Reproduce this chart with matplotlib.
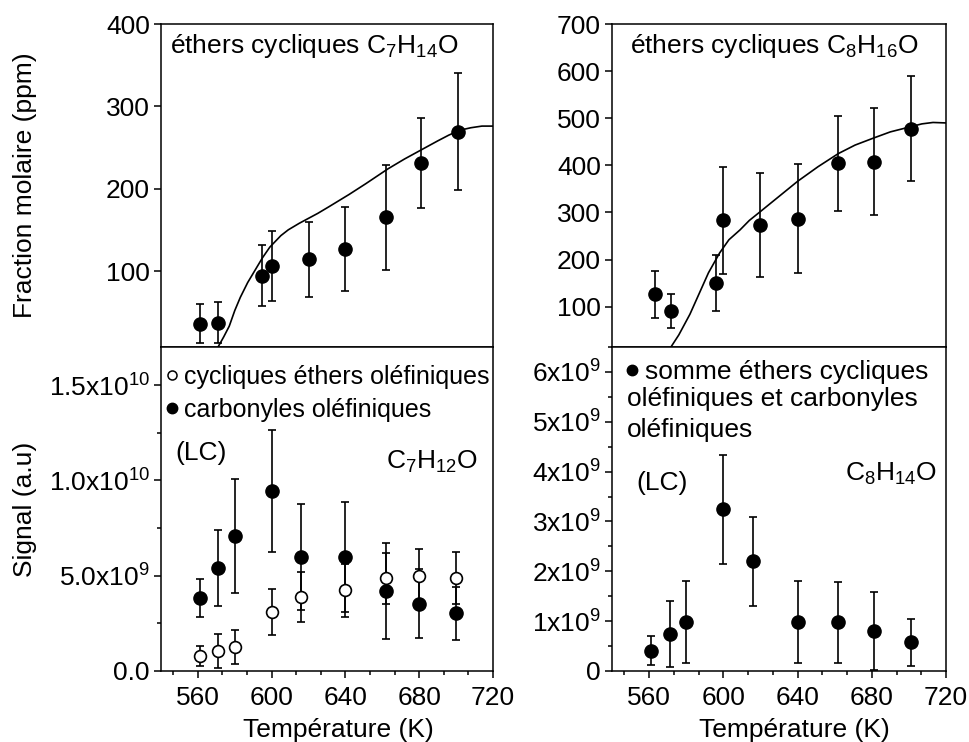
import matplotlib as mpl
mpl.use('Agg')
from matplotlib import pyplot as plt
from matplotlib.lines import Line2D
from matplotlib.ticker import MultipleLocator

mpl.rcParams['font.family'] = ['Liberation Sans', 'DejaVu Sans']
mpl.rcParams['font.size'] = 19
mpl.rcParams['mathtext.fontset'] = 'custom'
mpl.rcParams['mathtext.rm'] = 'Liberation Sans'
mpl.rcParams['mathtext.it'] = 'Liberation Sans:italic'
mpl.rcParams['axes.linewidth'] = 1.1

# --- data ---
# top left: ethers cycliques C7H14O (ppm)
t_c7 = [561, 571, 595, 600, 620, 640, 662, 681, 701]
y_c7 = [36, 37, 94, 106, 114, 127, 165, 231, 269]
e_c7 = [24, 25, 37, 43, 45, 51, 64, 55, 71]
sim_t_c7 = [571, 574, 577, 580, 583, 587, 591, 595, 599, 602, 605, 609, 615, 620,
            625, 631, 642, 651, 663, 672, 681, 690, 696, 702, 708, 714, 720]
sim_y_c7 = [8, 20, 33, 52, 68, 86, 101, 116, 129, 136, 143, 150, 158, 164,
            170, 178, 193, 206, 224, 236, 247, 258, 265, 271, 274, 276, 276]

# top right: ethers cycliques C8H16O (ppm)
t_c8 = [563, 572, 596, 600, 620, 640, 662, 681, 701]
y_c8 = [126, 90, 150, 283, 273, 287, 404, 408, 478]
e_c8 = [50, 36, 60, 114, 110, 115, 101, 113, 111]
sim_t_c8 = [571.7, 576, 579, 582, 587, 592, 598, 603, 609, 614, 620, 625, 630,
            640, 651, 662, 671, 681, 690, 701, 707, 713, 720]
sim_y_c8 = [14, 40, 62, 84, 128, 172, 214, 242, 263, 283, 302, 318, 334,
            366, 397, 425, 443, 458, 471, 482, 488, 491, 490]

# bottom left: C7H12O signal (LC)
t_lc7 = [561, 571, 580, 600, 616, 640, 662, 680, 700]
y_eth7 = [0.785e9, 1.05e9, 1.26e9, 3.09e9, 3.87e9, 4.24e9, 4.87e9, 4.96e9, 4.87e9]
e_eth7 = [0.52e9, 0.87e9, 0.88e9, 1.22e9, 1.32e9, 1.40e9, 1.33e9, 1.43e9, 1.38e9]
y_carb7 = [3.84e9, 5.41e9, 7.07e9, 9.46e9, 5.97e9, 5.98e9, 4.19e9, 3.54e9, 3.02e9]
e_carb7 = [1.0e9, 2.0e9, 3.0e9, 3.2e9, 2.77e9, 2.9e9, 2.53e9, 1.8e9, 1.4e9]

# bottom right: C8H14O signal (LC)
t_lc8 = [561, 571, 580, 600, 616, 640, 662, 681, 701]
y_sum8 = [0.41e9, 0.75e9, 0.99e9, 3.24e9, 2.20e9, 0.99e9, 0.98e9, 0.80e9, 0.58e9]
e_sum8 = [0.29e9, 0.66e9, 0.82e9, 1.09e9, 0.89e9, 0.82e9, 0.81e9, 0.78e9, 0.47e9]

xticks = [560, 600, 640, 680, 720]
yticks_c7 = [100, 200, 300, 400]
yticks_c8 = [100, 200, 300, 400, 500, 600, 700]
yticks_lc7 = [0, 5e9, 1e10, 1.5e10]
ylabels_lc7 = ['0.0', '5.0x10$^{9}$', '1.0x10$^{10}$', '1.5x10$^{10}$']
yticks_lc8 = [0, 1e9, 2e9, 3e9, 4e9, 5e9, 6e9]
ylabels_lc8 = ['0'] + ['%dx10$^{9}$' % i for i in range(1, 7)]

W, H = 969, 742
fig = plt.figure(figsize=(W / 100, H / 100), dpi=100)


def box(x0, x1, y0, y1):
    return [x0 / W, 1 - y1 / H, (x1 - x0) / W, (y1 - y0) / H]


ax1 = fig.add_axes(box(161, 493, 24, 347))
ax2 = fig.add_axes(box(612, 946, 24, 347))
ax3 = fig.add_axes(box(161, 493, 347, 671))
ax4 = fig.add_axes(box(612, 946, 347, 671))

eb = dict(fmt='o', color='black', ms=9.5, capsize=2.8, capthick=1.2, elinewidth=1.2)

for ax in (ax1, ax2, ax3, ax4):
    ax.set_xlim(540, 720)
    ax.set_xticks(xticks)
    ax.xaxis.set_minor_locator(MultipleLocator(40 / 3))
    ax.tick_params(which='major', direction='out', length=5, width=1.1, pad=6)
    ax.tick_params(which='minor', direction='out', length=3, width=1.1)
    ax.tick_params(axis='y', which='major', pad=3)

for ax in (ax1, ax2):
    ax.tick_params(axis='x', which='both', bottom=False, labelbottom=False)

# top left
ax1.errorbar(t_c7, y_c7, yerr=e_c7, **eb)
ax1.plot(sim_t_c7, sim_y_c7, color='black', lw=1.2)
ax1.set_ylim(7.7, 400)
ax1.set_yticks(yticks_c7)
ax1.text(0.027, 0.975, 'éthers cycliques C$_7$H$_{14}$O', transform=ax1.transAxes,
         va='top', ha='left')
ax1.set_ylabel('Fraction molaire (ppm)')
ax1.yaxis.set_label_coords(-0.373, 0.5)

# top right
ax2.errorbar(t_c8, y_c8, yerr=e_c8, **eb)
ax2.plot(sim_t_c8, sim_y_c8, color='black', lw=1.2)
ax2.set_ylim(14.4, 700)
ax2.set_yticks(yticks_c8)
ax2.text(0.054, 0.975, 'éthers cycliques C$_8$H$_{16}$O', transform=ax2.transAxes,
         va='top', ha='left')

# bottom left
ax3.errorbar(t_lc7, y_eth7, yerr=e_eth7, fmt='o', color='black', mfc='white',
             ms=8.5, mew=1.2, capsize=2.8, capthick=1.2, elinewidth=1.2, zorder=3)
ax3.errorbar(t_lc7, y_carb7, yerr=e_carb7, **eb)
ax3.set_ylim(0, 1.7e10)
ax3.set_yticks(yticks_lc7)
ax3.set_yticklabels(ylabels_lc7)
ax3.yaxis.set_minor_locator(MultipleLocator(2.5e9))
ax3.set_ylabel('Signal (a.u)')
ax3.yaxis.set_label_coords(-0.373, 0.5)
ax3.set_xlabel('Température (K)')
ax3.xaxis.set_label_coords(0.535, -0.145)
h_open = Line2D([], [], ls='none', marker='o', color='black', mfc='white', ms=6.5, mew=1.1)
h_fill = Line2D([], [], ls='none', marker='o', color='black', ms=7.5)
ax3.legend([h_open, h_fill], ['cycliques éthers oléfiniques', 'carbonyles oléfiniques'],
           loc='upper left', bbox_to_anchor=(0.013, 0.945), frameon=False,
           borderpad=0, borderaxespad=0, handlelength=0.5, handletextpad=0.25,
           labelspacing=0.35, fontsize=18)
ax3.text(0.042, 0.673, '(LC)', transform=ax3.transAxes, va='center', ha='left')
ax3.text(0.955, 0.645, 'C$_7$H$_{12}$O', transform=ax3.transAxes, va='center', ha='right')

# bottom right
ax4.errorbar(t_lc8, y_sum8, yerr=e_sum8, **eb)
ax4.set_ylim(0, 6.5e9)
ax4.set_yticks(yticks_lc8)
ax4.set_yticklabels(ylabels_lc8)
ax4.yaxis.set_minor_locator(MultipleLocator(0.5e9))
ax4.set_xlabel('Température (K)')
ax4.xaxis.set_label_coords(0.545, -0.145)
ax4.legend([h_fill], ['somme éthers cycliques'], loc='upper left',
           bbox_to_anchor=(0.04, 0.96), frameon=False, borderpad=0, borderaxespad=0,
           handlelength=0.5, handletextpad=0.25)
ax4.text(0.046, 0.878, 'oléfiniques et carbonyles\noléfiniques', transform=ax4.transAxes,
         va='top', ha='left', linespacing=1.4)
ax4.text(0.074, 0.58, '(LC)', transform=ax4.transAxes, va='center', ha='left')
ax4.text(0.972, 0.608, 'C$_8$H$_{14}$O', transform=ax4.transAxes, va='center', ha='right')

fig.savefig('out.png', dpi=100)
